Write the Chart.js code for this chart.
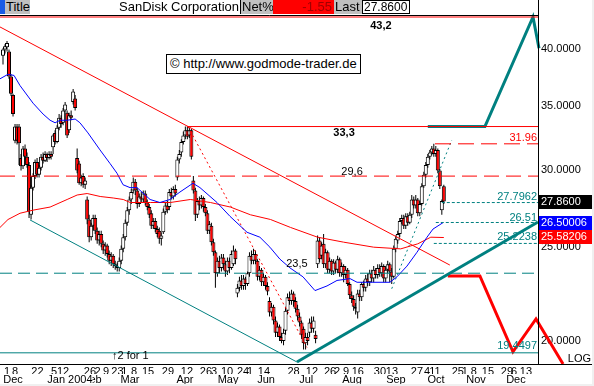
<!DOCTYPE html>
<html>
<head>
<meta charset="utf-8">
<script src="https://cdn.jsdelivr.net/npm/chart.js@4"></script>
<style>
html,body{margin:0;padding:0;background:#f0f0f0;}
#wrap{position:relative;width:592px;height:384px;background:#fff;font-family:Arial,"Liberation Sans",sans-serif;}
#wrap canvas{position:absolute;left:0;top:0;}
.hb{position:absolute;top:0;height:14px;font-size:13px;line-height:14px;color:#000;box-sizing:border-box;white-space:nowrap;overflow:hidden;}
#copy{position:absolute;left:166px;top:54px;width:195px;height:20px;border:1px solid #000;background:#fff;box-sizing:border-box;font-size:13px;line-height:18px;padding-left:3px;white-space:nowrap;}
</style>
</head>
<body>
<div id="wrap">
  <canvas id="c" width="592" height="384"></canvas>
  <div class="hb" style="left:0;width:5px;background:#1a5ce6"></div>
  <div class="hb" style="left:5px;width:25px;background:#c0c0c0;padding-left:1px">Title</div>
  <div class="hb" style="left:30px;width:210px;text-align:right;padding-right:1px">SanDisk Corporation</div>
  <div class="hb" style="left:240px;width:1px;background:#000"></div>
  <div class="hb" style="left:241px;width:32px;background:#c0c0c0;padding-left:1px">Net%</div>
  <div class="hb" style="left:273px;width:61px;background:#ff0000;color:#a00000;text-align:right;padding-right:2px">-1.55</div>
  <div class="hb" style="left:334px;width:28px;background:#c0c0c0;padding-left:1px">Last</div>
  <div class="hb" style="left:362px;width:48px;border:1px solid #000;background:#fff;padding-left:1px;line-height:12px;font-size:12px">27.8600</div>
  <div id="copy">© http://www.godmode-trader.de</div>
</div>
<script>
// trading-day index: 0 = 1 Dec 2003, one unit per trading day
const firstBar = -2;
// [open, high, low, close]
const bars = [
  [39.4,40.1,38.6,40.0],[40.0,40.5,39.6,40.3],[40.2,40.8,39.8,40.6],[39.8,40.0,37.3,37.5],[37.5,37.7,35.8,36.0],
  [35.9,36.0,34.1,34.3],[32.2,33.5,32.0,33.3],[33.3,33.5,31.9,32.2],[33.3,33.5,30.4,32.0],[30.9,31.2,30.0,30.3],
  [30.3,31.8,30.1,31.6],[31.6,31.9,30.8,31.0],[31.0,31.3,30.2,30.4],[30.4,30.6,26.8,27.2],[27.0,29.0,26.7,28.8],
  [28.8,29.8,28.6,29.6],[29.6,30.8,29.4,30.6],[30.6,30.9,29.5,29.7],[29.7,30.4,29.5,30.2],[30.2,31.2,30.0,31.0],
  [31.0,31.3,30.5,30.7],[30.7,31.4,30.6,31.2],[31.2,31.3,30.6,30.9],[30.9,31.4,30.8,31.2],[31.2,31.4,30.8,31.0],
  [31.7,32.7,31.2,32.6],[32.8,33.0,31.9,32.1],[32.1,33.4,32.0,33.2],[33.2,34.3,33.0,34.0],[34.0,34.2,33.2,33.5],
  [33.6,34.8,33.4,34.6],[34.6,35.3,34.4,35.1],[34.4,34.6,32.4,32.6],[33.0,34.4,32.8,34.2],[34.2,34.6,33.8,34.0],
  [35.3,36.4,35.1,36.2],[35.6,35.9,34.6,34.8],[30.9,31.6,29.8,30.0],[30.5,30.7,29.0,29.1],[29.1,29.7,28.9,29.5],
  [29.6,29.8,28.8,29.0],[29.0,29.5,28.7,29.3],[28.0,28.2,26.4,26.7],[26.7,27.0,25.3,25.6],[25.6,26.5,25.4,26.3],
  [26.3,27.0,26.0,26.8],[26.8,27.0,25.8,26.0],[26.0,26.2,25.2,25.4],[25.4,26.0,25.1,25.8],[25.8,26.0,25.0,25.2],
  [25.2,25.4,24.6,24.8],[24.8,25.3,24.5,25.1],[25.1,25.2,24.4,24.6],[24.6,24.8,24.0,24.2],[24.2,24.7,23.9,24.5],
  [24.5,24.6,23.8,24.0],[24.0,24.2,23.7,23.9],[23.9,24.1,23.6,23.8],[23.8,24.4,23.6,24.2],[24.2,25.1,24.0,24.9],
  [24.9,25.8,24.7,25.6],[25.6,26.7,25.4,26.5],[26.5,27.5,26.3,27.3],[27.3,28.2,27.0,28.0],[28.0,28.7,27.7,28.5],
  [28.6,29.5,28.4,29.2],[29.2,29.4,28.3,28.6],[28.6,28.8,27.4,27.7],[27.7,28.4,27.5,28.2],[28.2,28.5,27.8,28.0],
  [28.0,28.6,27.8,28.4],[28.4,28.6,27.6,27.8],[27.8,28.0,27.3,27.5],[27.5,27.7,26.8,27.0],[27.1,27.3,26.1,26.3],
  [26.3,26.8,26.1,26.6],[26.6,26.8,25.9,26.1],[26.1,26.3,25.6,25.8],[26.0,26.2,25.2,25.5],[25.5,25.9,25.1,25.7],
  [25.9,27.4,25.8,27.2],[27.2,27.8,27.0,27.6],[27.6,27.9,27.1,27.3],[27.5,28.7,27.3,28.5],[28.5,28.8,28.0,28.2],
  [28.2,28.9,28.0,28.7],[28.7,29.0,28.2,28.4],[29.5,31.0,29.3,30.8],[30.8,31.5,30.5,31.2],[31.3,32.3,31.0,32.1],
  [32.1,32.9,31.9,32.6],[32.6,33.3,32.3,33.0],[33.0,33.3,32.3,32.5],[32.6,33.2,32.4,33.0],[33.0,33.1,30.8,31.0],
  [29.3,29.6,28.4,28.6],[28.6,28.8,26.6,27.0],[27.0,28.1,26.8,27.9],[27.9,28.2,27.3,27.6],[27.6,28.3,27.4,28.1],
  [28.1,28.2,27.2,27.5],[27.5,27.7,26.9,27.1],[27.1,27.3,25.8,26.0],[26.0,26.6,25.8,26.4],[26.3,26.5,25.1,25.3],
  [25.3,25.5,24.5,24.7],[24.7,24.8,22.7,23.5],[23.5,24.4,23.3,24.2],[24.2,24.5,23.5,23.8],[23.8,24.6,23.6,24.4],
  [24.4,24.6,23.7,24.0],[24.0,24.2,23.3,23.6],[23.6,24.4,23.4,24.2],[24.2,24.4,23.5,23.8],[23.8,24.8,23.7,24.6],
  [24.0,25.1,23.9,24.8],[24.8,24.9,24.0,24.3],[22.4,22.9,22.2,22.7],[22.7,23.3,22.5,23.1],[23.1,23.4,22.6,22.8],
  [22.8,23.4,22.6,23.2],[23.2,23.3,22.6,22.9],[22.9,23.6,22.8,23.5],[23.5,24.7,23.3,24.5],[24.5,24.8,24.0,24.2],
  [24.2,24.9,24.0,24.6],[24.6,24.8,24.0,24.2],[24.2,24.3,23.1,23.3],[23.3,23.9,23.1,23.7],[23.7,23.8,22.8,23.0],
  [23.0,23.5,22.8,23.3],[23.3,23.4,22.6,22.8],[22.8,23.0,22.3,22.5],[22.0,22.2,21.2,21.4],[21.4,21.9,21.2,21.7],
  [21.7,21.8,20.8,21.0],[21.0,21.2,20.2,20.4],[20.4,20.9,20.2,20.7],[20.7,20.8,20.0,20.2],[20.2,20.4,19.9,20.0],
  [20.0,20.6,19.8,20.4],[20.5,21.7,20.3,21.5],[21.5,22.4,21.3,22.2],[22.2,22.5,21.8,22.0],[22.0,22.6,21.8,22.4],
  [22.4,22.5,21.7,22.0],[22.0,22.2,21.4,21.6],[21.6,21.8,21.0,21.2],[21.2,21.4,20.7,20.9],[20.9,21.0,20.1,20.3],
  [20.6,20.7,19.6,19.9],[19.9,20.4,19.6,20.2],[20.2,20.4,19.8,20.0],[20.4,21.1,20.2,20.9],[20.9,21.2,20.4,20.6],
  [20.6,21.2,20.4,21.0],[20.3,20.5,19.9,20.1],[24.0,25.7,23.8,25.4],[25.4,25.6,24.1,24.3],[24.5,25.3,24.3,25.1],
  [25.2,25.8,23.8,24.0],[24.0,24.9,23.8,24.7],[24.7,24.8,23.5,23.7],[23.7,24.4,23.5,24.2],[24.2,24.3,23.4,23.6],
  [23.6,24.3,23.4,24.1],[24.1,24.2,23.5,23.7],[23.7,24.5,23.5,24.3],[24.3,24.4,23.3,23.5],[23.5,24.1,23.3,23.9],
  [23.9,24.0,23.0,23.4],[23.4,23.9,23.2,23.7],[23.7,23.8,22.8,22.9],[22.9,23.0,22.1,22.3],[22.3,22.5,21.9,22.1],
  [22.1,22.3,21.5,21.7],[21.7,21.9,21.3,21.6],[21.4,22.6,21.1,22.4],[22.4,22.6,22.0,22.2],[22.2,23.0,22.0,22.9],
  [22.9,23.1,22.5,22.7],[22.7,23.4,22.5,23.2],[23.2,23.5,22.8,23.0],[23.0,23.7,22.8,23.5],[23.5,23.7,23.0,23.2],
  [23.2,23.9,23.0,23.7],[23.7,23.8,23.2,23.4],[23.4,24.0,23.2,23.8],[23.8,24.0,23.3,23.5],[23.5,24.1,23.3,23.9],
  [23.9,24.0,23.0,23.2],[23.2,23.9,23.0,23.7],[23.7,24.2,23.5,24.0],[24.0,24.1,23.0,23.6],[23.6,23.8,22.9,23.3],
  [23.3,25.1,23.2,24.9],[24.9,25.7,24.7,25.5],[25.4,26.0,25.2,25.8],[25.8,26.8,25.6,26.6],[26.6,27.0,26.4,26.8],
  [26.8,27.0,26.1,26.3],[26.3,27.1,26.1,26.9],[26.9,27.1,26.3,26.5],[26.5,27.2,26.4,27.0],[27.0,28.3,26.8,28.0],
  [28.0,28.2,27.4,27.6],[27.6,28.3,27.4,28.0],[28.0,28.1,26.9,27.1],[27.1,27.9,26.9,27.7],[27.7,29.1,27.6,28.9],
  [28.9,29.9,28.8,29.7],[29.7,30.6,29.5,30.4],[30.4,31.2,30.2,31.0],[31.0,31.5,30.8,31.3],[31.3,31.8,31.1,31.6],
  [31.6,31.96,31.0,31.2],[31.2,31.8,31.0,31.5],[31.5,31.6,29.8,30.0],[30.0,30.1,28.7,28.9],[27.3,28.0,27.0,27.9],
  [28.9,29.0,27.7,27.86]
];

// moving averages, [trading day, price]
const blueMA = [[-3.5,37.3],[0.5,37.7],[3.5,37.6],[6.5,36.7],[13,35.2],[18,34.3],[21.5,33.8],[24,33.6],[26.5,33.8],[30,33.8],
  [34,33.9],[36.4,33.6],[40.4,32.8],[46.4,31.5],[51.4,30.5],[54.9,29.8],[57.9,29.0],[61.4,28.8],[64.9,28.8],[71.4,28.0],
  [76.3,27.8],[81.3,28.0],[86.3,28.5],[92.8,29.1],[96.3,28.8],[104.8,27.8],[111.3,26.9],[119.8,25.9],[126.2,25.6],[131.2,25.0],
  [136.2,24.3],[141.2,23.8],[147.7,23.3],[153.7,22.55],[159.7,22.8],[164.7,23.1],[171.2,23.2],[174.7,23.0],[182.6,23.0],[191.1,23.0],
  [194.6,23.3],[199.6,23.9],[204.6,24.7],[209.6,25.6],[212.6,26.1],[217.6,26.5]];
const redMA = [[-3.5,26.2],[0.5,26.7],[6.5,27.1],[13,27.3],[21.5,27.5],[30,28.0],[35,28.3],[40,28.4],[46.5,28.2],[53,28.1],
  [58,28.0],[61.5,27.8],[71.5,27.8],[81.5,27.8],[91.5,28.0],[101.5,27.8],[111.5,27.5],[121.5,27.0],[131.5,26.7],[141.5,26.2],
  [155,25.6],[168,25.3],[183,25.0],[196.5,24.9],[205,25.2],[211.5,25.6],[218,25.58]];

// drawn trend lines and projections
const downTrend = [[-3.5,42.19],[221,23.96]];
const lowChannel = [[11.5,26.67],[144.7,19.03]];
const upTrend = [[144.7,19.03],[265,26.54]];
const dropDotted = [[90.3,33.3],[149.7,19.7]];
const riseDotted = [[192,22.65],[222,32.25]];
const upTarget = [[210,33.3],[238.5,33.3],[262.5,43.2],[265.5,40.1]];
const downTarget = [[220,23.35],[236,23.35],[252.5,19.5],[264,21.08],[277.5,18.94]];

// horizontal levels
const levelHigh = 43.2, levelPeak = 33.3, levelMid = 29.6, levelLow = 23.5, levelBottom = 19.4497;
const fibLevels = [27.7962, 26.51, 25.2238];
const lastHigh = 31.96;

// right axis tags
const tagValues = [27.86, 26.50006, 25.58206];
const tagTexts = ['27.8600', '26.50006', '25.58206'];

// axes
const yTicks = [20, 25, 30, 35, 40];
const dayTickPos = [0,4,15.2,23.5,28,41.4,45.2,49.4,55.1,58.6,63.4,70.4,80.3,89.8,99.3,103.3,109.8,117.8,121.3,128.2,
  143,152.2,161.2,164.7,169.2,175.1,186.1,192.1,204.6,209.6,213.6,225,228.5,233,240,249.5,253,259];
const dayTickText = ['1','8','22','5','12','26','2','9','23','1','8','15','29','12','26','3','10','24','1','14',
  '28','12','26','2','9','16','30','13','27','4','11','25','1','8','15','29','6','13'];
const monthTickPos = [3,42.5,31.4,61.4,88.8,110.3,129.3,149.3,172.2,194.1,214.1,234.1,254];
const monthTickText = ['Dec','Feb','Jan 2004','Mar','Apr','May','Jun','Jul','Aug','Sep','Oct','Nov','Dec'];

const xMin = -3.5, xMax = 265;
const RED = '#ff0000', TEAL = '#008080', BLUE = '#0000ff';
const FONT = 'Arial, "Liberation Sans", sans-serif';

Chart.defaults.font.family = FONT;
Chart.defaults.font.size = 11;
Chart.defaults.color = '#000';

const line = (pts, color, width, dash, extra) => Object.assign({
  type: 'line',
  data: pts.map(p => ({x: p[0], y: p[1]})),
  borderColor: color, borderWidth: width, borderDash: dash || [],
  pointRadius: 0, fill: false, tension: 0, order: 0
}, extra || {});
const hline = (v, from, color, width, dash, extra) => line([[from, v], [xMax, v]], color, width, dash, extra);

const datasets = [
  {type: 'bar', data: bars.map((b, k) => ({x: firstBar + k, y: [b[2], b[1]]})),
   backgroundColor: '#000', barThickness: 1, grouped: false, order: 3, inflateAmount: 0},
  {type: 'bar', data: bars.map((b, k) => ({x: firstBar + k, y: [b[0], b[3]]})),
   backgroundColor: bars.map(b => b[3] < b[0] ? RED : '#fff'), borderColor: '#000', borderWidth: 1,
   borderSkipped: false, barThickness: 4, grouped: false, order: 2, inflateAmount: 0},
  hline(levelHigh, xMin, RED, 1, [], {clip: false}),
  hline(levelPeak, 90, RED, 1),
  hline(levelMid, xMin, RED, 1, [15, 7]),
  hline(lastHigh, 213.6, RED, 1, [16, 7]),
  hline(levelLow, xMin, TEAL, 1, [12, 6]),
  hline(levelBottom, xMin, TEAL, 1),
  hline(fibLevels[0], 217, TEAL, 1, [3, 2]),
  hline(fibLevels[1], 214, TEAL, 1, [3, 2]),
  hline(fibLevels[2], 213, TEAL, 1, [3, 2]),
  line(blueMA, BLUE, 1),
  line(redMA, RED, 1),
  line(downTrend, RED, 1),
  line(lowChannel, TEAL, 1),
  line(dropDotted, RED, 1, [2, 3]),
  line(riseDotted, TEAL, 1, [2, 3]),
  line(upTrend, TEAL, 3, [], {clip: false}),
  line(upTarget, TEAL, 3, [], {clip: false}),
  line(downTarget, RED, 3, [], {clip: false})
];

const notes = [
  {text: '43,2', t: 186.6, v: levelHigh, dy: 9, bold: true, align: 'center', color: '#000'},
  {text: '33,3', t: 168.2, v: levelPeak, dy: 6, bold: true, align: 'center', color: '#000'},
  {text: '29,6', t: 172.2, v: levelMid, dy: -4, align: 'center', color: '#000'},
  {text: '23,5', t: 144.7, v: levelLow, dy: -9, align: 'center', color: '#000'},
  {text: '31.96', v: lastHigh, dy: -6, align: 'right', color: RED},
  {text: '27.7962', v: fibLevels[0], dy: -6, align: 'right', color: TEAL},
  {text: '26.51', v: fibLevels[1], dy: -5, align: 'right', color: TEAL},
  {text: '25.2238', v: fibLevels[2], dy: -6, align: 'right', color: TEAL},
  {text: '19.4497', v: levelBottom, dy: -7, align: 'right', color: TEAL}
];

const decor = {
  id: 'decor',
  afterDraw(chart) {
    const {ctx, chartArea: a, scales: {x, y}} = chart;
    const W = chart.width;
    ctx.save();
    ctx.strokeStyle = '#000';
    ctx.lineWidth = 1;
    ctx.beginPath();
    ctx.moveTo(0, 15.5); ctx.lineTo(a.right + 0.5, 15.5);
    ctx.moveTo(a.right + 0.5, 0); ctx.lineTo(a.right + 0.5, a.bottom + 0.5);
    ctx.moveTo(0, a.bottom + 0.5); ctx.lineTo(W, a.bottom + 0.5);
    ctx.stroke();

    ctx.textBaseline = 'middle';
    notes.forEach(n => {
      ctx.font = (n.bold ? 'bold ' : '') + '11px ' + FONT;
      ctx.fillStyle = n.color;
      ctx.textAlign = n.align;
      const px = n.align === 'right' ? a.right - 1 : x.getPixelForValue(n.t);
      ctx.fillText(n.text, px, y.getPixelForValue(n.v) + n.dy);
    });

    ctx.font = '11px ' + FONT;
    ctx.textAlign = 'left';
    ctx.fillStyle = '#000';
    ctx.fillText('\u21912 for 1', x.getPixelForValue(52.4), a.bottom - 8);
    ctx.textAlign = 'right';
    ctx.fillText('LOG', W - 1, a.bottom - 5);

    const tagColors = ['#000', BLUE, RED];
    ctx.textAlign = 'left';
    tagValues.forEach((v, i) => {
      const py = Math.round(y.getPixelForValue(v));
      ctx.fillStyle = tagColors[i];
      ctx.fillRect(a.right + 1, py - 7, W - a.right - 1, 14);
      ctx.fillStyle = '#fff';
      ctx.fillText(tagTexts[i], a.right + 3, py);
    });
    ctx.restore();
  }
};

new Chart(document.getElementById('c'), {
  type: 'bar',
  data: {datasets},
  options: {
    responsive: false,
    animation: false,
    events: [],
    layout: {padding: {top: 17, left: 0, right: 0, bottom: 0}},
    plugins: {legend: {display: false}, tooltip: {enabled: false}},
    scales: {
      x: {
        type: 'linear', position: 'bottom', min: xMin, max: xMax, offset: false,
        grid: {display: false, drawTicks: false, offset: false}, border: {display: false},
        afterBuildTicks: s => { s.ticks = dayTickPos.map(v => ({value: v})); },
        afterFit: s => { s.height = 10; },
        ticks: {autoSkip: false, maxRotation: 0, minRotation: 0, padding: 2, font: {size: 11, lineHeight: 1},
          callback: (v, i) => dayTickText[i]}
      },
      x2: {
        type: 'linear', position: 'bottom', min: xMin, max: xMax, offset: false,
        grid: {display: false, drawTicks: false, offset: false}, border: {display: false},
        afterBuildTicks: s => { s.ticks = monthTickPos.map(v => ({value: v})); },
        afterFit: s => { s.height = 10; },
        ticks: {autoSkip: false, maxRotation: 0, minRotation: 0, padding: 0, font: {size: 11, lineHeight: 1},
          showLabelBackdrop: true, backdropColor: '#fff', backdropPadding: 0,
          callback: (v, i) => monthTickText[i]}
      },
      y: {
        type: 'logarithmic', position: 'right', min: 18.94, max: 43.2, beginAtZero: false,
        grid: {display: false, drawTicks: false}, border: {display: false},
        afterBuildTicks: s => { s.ticks = yTicks.map(v => ({value: v})); },
        afterFit: s => { s.width = 54; },
        ticks: {padding: 3, font: {size: 11, lineHeight: 1}, callback: v => Number(v).toFixed(4)}
      }
    }
  },
  plugins: [decor]
});
</script>
</body>
</html>
